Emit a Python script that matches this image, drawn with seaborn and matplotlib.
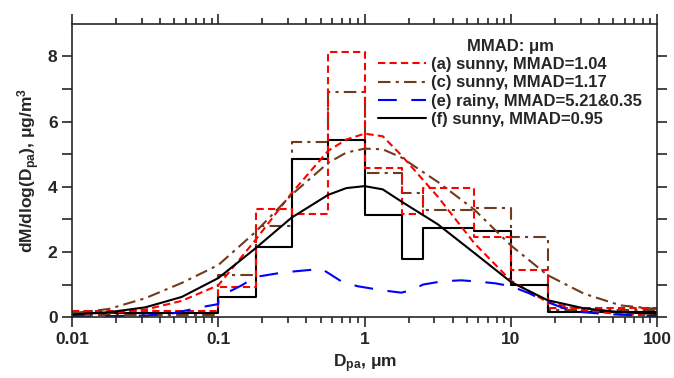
# MMAD size distributions: stepped impactor data + lognormal fits
import numpy as np
import seaborn as sns
import matplotlib
matplotlib.use("Agg")
import matplotlib.pyplot as plt
from matplotlib.ticker import FixedLocator, NullFormatter, LogLocator

sns.set_style('ticks')
plt.rcParams['font.family'] = ['Liberation Sans', 'DejaVu Sans']
plt.rcParams['font.weight'] = 'bold'
plt.rcParams['mathtext.fontset'] = 'custom'
plt.rcParams['mathtext.rm'] = 'Liberation Sans:bold'
plt.rcParams['mathtext.default'] = 'rm'

# impactor stage cut points (um)
edges = [0.01, 0.1, 0.18, 0.32, 0.56, 1.0, 1.8, 2.5, 5.6, 10, 18, 100]
hist_a = [0.18, 0.92, 3.32, 3.15, 8.12, 4.58, 3.17, 3.97, 2.46, 1.45, 0.28]
hist_c = [0.08, 1.29, 2.80, 5.36, 6.90, 4.42, 3.80, 3.29, 3.35, 2.47, 0.22]
hist_f = [0.12, 0.62, 2.15, 4.86, 5.43, 3.14, 1.78, 2.74, 2.65, 1.00, 0.16]

# fitted curves, read at these diameters (um)
dp_fit = [0.01, 0.0178, 0.0316, 0.0562, 0.1, 0.178, 0.316, 0.562, 0.75,
          1.0, 1.33, 1.78, 3.16, 5.62, 10, 17.8, 31.6, 56.2, 100]
fit_a = [0.10, 0.13, 0.23, 0.50, 0.98, 2.35, 3.80, 5.10, 5.45,
         5.63, 5.55, 4.97, 3.70, 2.27, 1.12, 0.46, 0.20, 0.09, 0.04]
fit_c = [0.12, 0.25, 0.58, 1.05, 1.60, 2.60, 3.75, 4.73, 5.05,
         5.17, 5.15, 4.90, 4.15, 3.30, 2.20, 1.29, 0.72, 0.36, 0.25]
fit_f = [0.08, 0.15, 0.30, 0.62, 1.20, 2.10, 3.05, 3.75, 3.96,
         4.02, 3.92, 3.55, 2.85, 1.97, 1.08, 0.52, 0.27, 0.15, 0.10]

# rainy day curve (bimodal)
dp_e = [0.01, 0.0178, 0.0316, 0.0468, 0.0794, 0.0998, 0.1, 0.117, 0.145,
        0.178, 0.251, 0.324, 0.427, 0.5, 0.589, 0.692, 0.891, 1.29, 1.78,
        2.09, 2.51, 3.39, 4.57, 5.62, 7.76, 10, 13.2, 17.8, 26.3, 45.7, 100]
fit_e = [0.02, 0.03, 0.05, 0.10, 0.32, 0.40, 0.58, 0.77, 0.98,
         1.23, 1.34, 1.40, 1.45, 1.50, 1.30, 1.10, 0.95, 0.83, 0.75,
         0.83, 1.00, 1.10, 1.13, 1.10, 1.04, 0.95, 0.74, 0.46, 0.18, 0.09, 0.03]

red = '#ff0000'
brown = '#6e3b1c'
blue = '#0000ff'
black = '#000000'

fig, ax = plt.subplots(figsize=(6.74, 3.78), dpi=100)
fig.subplots_adjust(left=0.107, right=0.975, bottom=0.161, top=0.937)

ax.set_xscale('log')

# stepped histograms
for vals, col, ls in [(hist_c, brown, (0, (6, 2.5, 1.5, 2.5))),
                      (hist_f, black, '-'),
                      (hist_a, red, (0, (3.5, 2)))]:
    sns.lineplot(x=edges, y=list(vals) + [vals[-1]], color=col, lw=1.5,
                 linestyle=ls, drawstyle='steps-post', ax=ax)

# curves
sns.lineplot(x=dp_fit, y=fit_a, color=red, lw=1.5, linestyle=(0, (3.5, 2)),
             ax=ax, label='(a) sunny, MMAD=1.04')
sns.lineplot(x=dp_fit, y=fit_c, color=brown, lw=1.5,
             linestyle=(0, (6, 2.5, 1.5, 2.5)), ax=ax,
             label='(c) sunny, MMAD=1.17')
sns.lineplot(x=dp_e, y=fit_e, color=blue, lw=1.5, linestyle=(0, (9, 7)),
             ax=ax, label='(e) rainy, MMAD=5.21&0.35')
sns.lineplot(x=dp_fit, y=fit_f, color=black, lw=1.5, ax=ax,
             label='(f) sunny, MMAD=0.95')

ax.set_xlim(0.01, 100)
ax.set_ylim(0, 9)
ax.set_xticks([0.01, 0.1, 1, 10, 100])
ax.set_xticklabels(['0.01', '0.1', '1', '10', '100'])
ax.xaxis.set_minor_locator(LogLocator(base=10, subs=np.arange(2, 10), numticks=20))
ax.xaxis.set_minor_formatter(NullFormatter())
ax.set_yticks([0, 2, 4, 6, 8])
ax.yaxis.set_minor_locator(FixedLocator([1, 3, 5, 7]))

ax.tick_params(which='both', direction='out', top=True, right=True,
               width=1.2, labelsize=12.5)
ax.tick_params(axis='x', which='major', length=7)
ax.tick_params(axis='x', which='minor', length=4)
ax.tick_params(axis='y', which='both', length=7)
for s in ax.spines.values():
    s.set_linewidth(1.2)

ax.set_xlabel(r'D$_{pa}$, μm', fontsize=12.5, fontweight='bold', labelpad=4)
ax.set_ylabel(r'dM/dlog(D$_{pa}$), μg/m$^{3}$', fontsize=12.5,
              fontweight='bold', labelpad=4)

leg = ax.legend(title='MMAD: μm', loc='upper right',
                bbox_to_anchor=(1.0, 1.0), frameon=False, fontsize=12,
                title_fontproperties={'weight': 'bold', 'size': 12},
                handlelength=2.9, handletextpad=0.3, labelspacing=0.2,
                borderaxespad=0.5)
for t in leg.get_texts():
    t.set_fontweight('bold')

fig.savefig('out.png', dpi=100)
